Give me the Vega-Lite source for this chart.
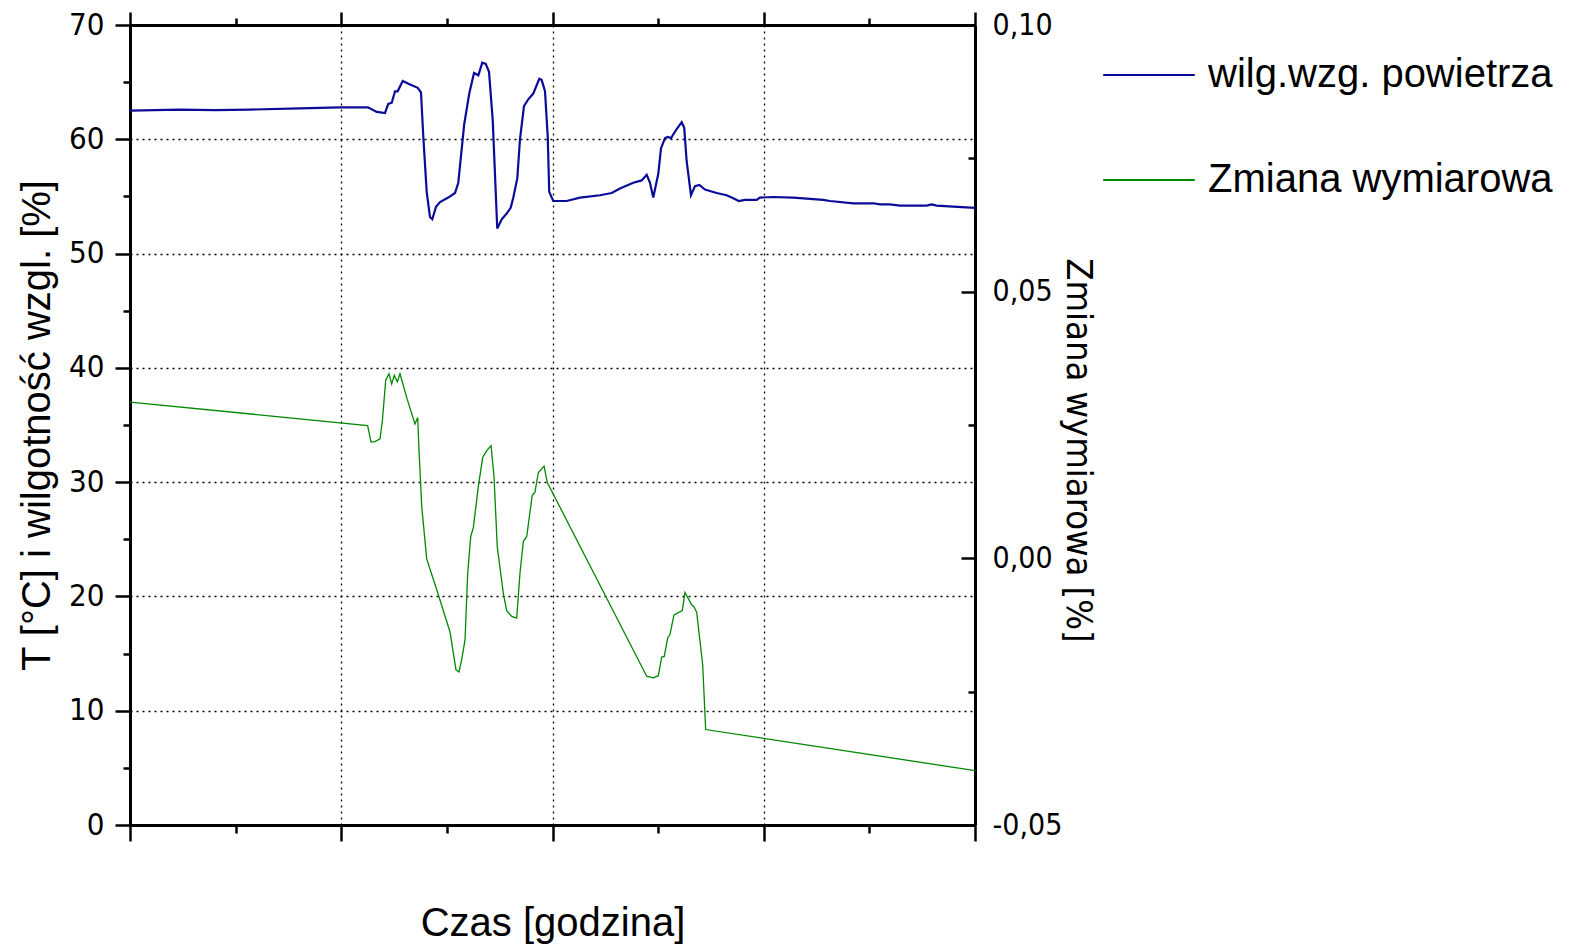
{
  "$schema": "https://vega.github.io/schema/vega-lite/v6.json",
  "width": 845,
  "height": 800,
  "autosize": {"type": "none"},
  "padding": {"left": 130, "top": 25, "right": 600, "bottom": 119},
  "background": "white",
  "config": {
    "view": {"stroke": null},
    "axis": {
      "domainColor": "black", "domainWidth": 3,
      "tickColor": "black", "tickWidth": 2.5,
      "gridColor": "black", "gridDash": [2, 4], "gridWidth": 1.3,
      "labelColor": "black", "titleColor": "black", "titleFontWeight": "normal",
      "labelFlush": false, "labelOverlap": false
    },
    "legend": {
      "orient": "none", "legendX": 972, "legendY": 3,
      "symbolType": "stroke", "symbolSize": 8390, "symbolStrokeWidth": 1.8,
      "labelFont": "Liberation Sans", "labelFontSize": 40, "labelColor": "black",
      "labelOffset": 12, "rowPadding": 38, "padding": 0, "labelLimit": 600
    }
  },
  "datasets": {
    "wilg": [
      {"t": 0.000, "rh": 62.5, "seria": "wilg.wzg. powietrza"},
      {"t": 0.473, "rh": 62.6, "seria": "wilg.wzg. powietrza"},
      {"t": 0.800, "rh": 62.55, "seria": "wilg.wzg. powietrza"},
      {"t": 1.136, "rh": 62.6, "seria": "wilg.wzg. powietrza"},
      {"t": 1.609, "rh": 62.7, "seria": "wilg.wzg. powietrza"},
      {"t": 1.988, "rh": 62.8, "seria": "wilg.wzg. powietrza"},
      {"t": 2.253, "rh": 62.8, "seria": "wilg.wzg. powietrza"},
      {"t": 2.336, "rh": 62.4, "seria": "wilg.wzg. powietrza"},
      {"t": 2.414, "rh": 62.3, "seria": "wilg.wzg. powietrza"},
      {"t": 2.445, "rh": 63.1, "seria": "wilg.wzg. powietrza"},
      {"t": 2.478, "rh": 63.2, "seria": "wilg.wzg. powietrza"},
      {"t": 2.509, "rh": 64.2, "seria": "wilg.wzg. powietrza"},
      {"t": 2.534, "rh": 64.2, "seria": "wilg.wzg. powietrza"},
      {"t": 2.582, "rh": 65.1, "seria": "wilg.wzg. powietrza"},
      {"t": 2.651, "rh": 64.8, "seria": "wilg.wzg. powietrza"},
      {"t": 2.724, "rh": 64.5, "seria": "wilg.wzg. powietrza"},
      {"t": 2.755, "rh": 64.1, "seria": "wilg.wzg. powietrza"},
      {"t": 2.777, "rh": 60.2, "seria": "wilg.wzg. powietrza"},
      {"t": 2.809, "rh": 55.4, "seria": "wilg.wzg. powietrza"},
      {"t": 2.840, "rh": 53.2, "seria": "wilg.wzg. powietrza"},
      {"t": 2.862, "rh": 53.0, "seria": "wilg.wzg. powietrza"},
      {"t": 2.897, "rh": 54.1, "seria": "wilg.wzg. powietrza"},
      {"t": 2.935, "rh": 54.5, "seria": "wilg.wzg. powietrza"},
      {"t": 3.013, "rh": 54.9, "seria": "wilg.wzg. powietrza"},
      {"t": 3.077, "rh": 55.3, "seria": "wilg.wzg. powietrza"},
      {"t": 3.108, "rh": 56.2, "seria": "wilg.wzg. powietrza"},
      {"t": 3.164, "rh": 61.3, "seria": "wilg.wzg. powietrza"},
      {"t": 3.212, "rh": 64.0, "seria": "wilg.wzg. powietrza"},
      {"t": 3.257, "rh": 65.8, "seria": "wilg.wzg. powietrza"},
      {"t": 3.298, "rh": 65.6, "seria": "wilg.wzg. powietrza"},
      {"t": 3.335, "rh": 66.7, "seria": "wilg.wzg. powietrza"},
      {"t": 3.368, "rh": 66.6, "seria": "wilg.wzg. powietrza"},
      {"t": 3.399, "rh": 65.9, "seria": "wilg.wzg. powietrza"},
      {"t": 3.434, "rh": 61.7, "seria": "wilg.wzg. powietrza"},
      {"t": 3.477, "rh": 52.2, "seria": "wilg.wzg. powietrza"},
      {"t": 3.519, "rh": 53.0, "seria": "wilg.wzg. powietrza"},
      {"t": 3.566, "rh": 53.5, "seria": "wilg.wzg. powietrza"},
      {"t": 3.604, "rh": 54.0, "seria": "wilg.wzg. powietrza"},
      {"t": 3.629, "rh": 54.9, "seria": "wilg.wzg. powietrza"},
      {"t": 3.667, "rh": 56.6, "seria": "wilg.wzg. powietrza"},
      {"t": 3.692, "rh": 60.0, "seria": "wilg.wzg. powietrza"},
      {"t": 3.730, "rh": 62.9, "seria": "wilg.wzg. powietrza"},
      {"t": 3.771, "rh": 63.5, "seria": "wilg.wzg. powietrza"},
      {"t": 3.818, "rh": 64.0, "seria": "wilg.wzg. powietrza"},
      {"t": 3.875, "rh": 65.3, "seria": "wilg.wzg. powietrza"},
      {"t": 3.897, "rh": 65.2, "seria": "wilg.wzg. powietrza"},
      {"t": 3.929, "rh": 64.2, "seria": "wilg.wzg. powietrza"},
      {"t": 3.955, "rh": 60.2, "seria": "wilg.wzg. powietrza"},
      {"t": 3.969, "rh": 55.4, "seria": "wilg.wzg. powietrza"},
      {"t": 4.007, "rh": 54.6, "seria": "wilg.wzg. powietrza"},
      {"t": 4.134, "rh": 54.6, "seria": "wilg.wzg. powietrza"},
      {"t": 4.260, "rh": 54.9, "seria": "wilg.wzg. powietrza"},
      {"t": 4.450, "rh": 55.1, "seria": "wilg.wzg. powietrza"},
      {"t": 4.560, "rh": 55.3, "seria": "wilg.wzg. powietrza"},
      {"t": 4.639, "rh": 55.7, "seria": "wilg.wzg. powietrza"},
      {"t": 4.765, "rh": 56.2, "seria": "wilg.wzg. powietrza"},
      {"t": 4.844, "rh": 56.4, "seria": "wilg.wzg. powietrza"},
      {"t": 4.892, "rh": 56.9, "seria": "wilg.wzg. powietrza"},
      {"t": 4.923, "rh": 56.2, "seria": "wilg.wzg. powietrza"},
      {"t": 4.954, "rh": 54.9, "seria": "wilg.wzg. powietrza"},
      {"t": 5.002, "rh": 57.0, "seria": "wilg.wzg. powietrza"},
      {"t": 5.027, "rh": 59.2, "seria": "wilg.wzg. powietrza"},
      {"t": 5.065, "rh": 60.1, "seria": "wilg.wzg. powietrza"},
      {"t": 5.091, "rh": 60.2, "seria": "wilg.wzg. powietrza"},
      {"t": 5.122, "rh": 60.1, "seria": "wilg.wzg. powietrza"},
      {"t": 5.176, "rh": 60.9, "seria": "wilg.wzg. powietrza"},
      {"t": 5.223, "rh": 61.5, "seria": "wilg.wzg. powietrza"},
      {"t": 5.247, "rh": 61.0, "seria": "wilg.wzg. powietrza"},
      {"t": 5.270, "rh": 58.1, "seria": "wilg.wzg. powietrza"},
      {"t": 5.311, "rh": 55.1, "seria": "wilg.wzg. powietrza"},
      {"t": 5.349, "rh": 55.9, "seria": "wilg.wzg. powietrza"},
      {"t": 5.390, "rh": 56.0, "seria": "wilg.wzg. powietrza"},
      {"t": 5.444, "rh": 55.6, "seria": "wilg.wzg. powietrza"},
      {"t": 5.554, "rh": 55.3, "seria": "wilg.wzg. powietrza"},
      {"t": 5.649, "rh": 55.1, "seria": "wilg.wzg. powietrza"},
      {"t": 5.696, "rh": 54.9, "seria": "wilg.wzg. powietrza"},
      {"t": 5.765, "rh": 54.6, "seria": "wilg.wzg. powietrza"},
      {"t": 5.822, "rh": 54.7, "seria": "wilg.wzg. powietrza"},
      {"t": 5.933, "rh": 54.7, "seria": "wilg.wzg. powietrza"},
      {"t": 5.964, "rh": 54.9, "seria": "wilg.wzg. powietrza"},
      {"t": 6.090, "rh": 54.95, "seria": "wilg.wzg. powietrza"},
      {"t": 6.279, "rh": 54.9, "seria": "wilg.wzg. powietrza"},
      {"t": 6.406, "rh": 54.8, "seria": "wilg.wzg. powietrza"},
      {"t": 6.564, "rh": 54.7, "seria": "wilg.wzg. powietrza"},
      {"t": 6.627, "rh": 54.6, "seria": "wilg.wzg. powietrza"},
      {"t": 6.848, "rh": 54.4, "seria": "wilg.wzg. powietrza"},
      {"t": 7.037, "rh": 54.4, "seria": "wilg.wzg. powietrza"},
      {"t": 7.101, "rh": 54.3, "seria": "wilg.wzg. powietrza"},
      {"t": 7.195, "rh": 54.3, "seria": "wilg.wzg. powietrza"},
      {"t": 7.290, "rh": 54.2, "seria": "wilg.wzg. powietrza"},
      {"t": 7.543, "rh": 54.2, "seria": "wilg.wzg. powietrza"},
      {"t": 7.590, "rh": 54.3, "seria": "wilg.wzg. powietrza"},
      {"t": 7.637, "rh": 54.2, "seria": "wilg.wzg. powietrza"},
      {"t": 7.794, "rh": 54.1, "seria": "wilg.wzg. powietrza"},
      {"t": 8.000, "rh": 54.0, "seria": "wilg.wzg. powietrza"}
    ],
    "zmiana": [
      {"t": 0.000, "dz": 0.0293, "seria": "Zmiana wymiarowa"},
      {"t": 2.250, "dz": 0.0249, "seria": "Zmiana wymiarowa"},
      {"t": 2.282, "dz": 0.0218, "seria": "Zmiana wymiarowa"},
      {"t": 2.320, "dz": 0.0219, "seria": "Zmiana wymiarowa"},
      {"t": 2.367, "dz": 0.0224, "seria": "Zmiana wymiarowa"},
      {"t": 2.389, "dz": 0.0257, "seria": "Zmiana wymiarowa"},
      {"t": 2.421, "dz": 0.0334, "seria": "Zmiana wymiarowa"},
      {"t": 2.452, "dz": 0.0346, "seria": "Zmiana wymiarowa"},
      {"t": 2.478, "dz": 0.0327, "seria": "Zmiana wymiarowa"},
      {"t": 2.502, "dz": 0.0343, "seria": "Zmiana wymiarowa"},
      {"t": 2.531, "dz": 0.0331, "seria": "Zmiana wymiarowa"},
      {"t": 2.556, "dz": 0.0346, "seria": "Zmiana wymiarowa"},
      {"t": 2.625, "dz": 0.0298, "seria": "Zmiana wymiarowa"},
      {"t": 2.698, "dz": 0.0252, "seria": "Zmiana wymiarowa"},
      {"t": 2.724, "dz": 0.0264, "seria": "Zmiana wymiarowa"},
      {"t": 2.736, "dz": 0.0203, "seria": "Zmiana wymiarowa"},
      {"t": 2.762, "dz": 0.0097, "seria": "Zmiana wymiarowa"},
      {"t": 2.809, "dz": -0.0001, "seria": "Zmiana wymiarowa"},
      {"t": 2.904, "dz": -0.0059, "seria": "Zmiana wymiarowa"},
      {"t": 3.030, "dz": -0.0138, "seria": "Zmiana wymiarowa"},
      {"t": 3.086, "dz": -0.0209, "seria": "Zmiana wymiarowa"},
      {"t": 3.115, "dz": -0.0213, "seria": "Zmiana wymiarowa"},
      {"t": 3.140, "dz": -0.0190, "seria": "Zmiana wymiarowa"},
      {"t": 3.172, "dz": -0.0153, "seria": "Zmiana wymiarowa"},
      {"t": 3.197, "dz": -0.0028, "seria": "Zmiana wymiarowa"},
      {"t": 3.226, "dz": 0.0041, "seria": "Zmiana wymiarowa"},
      {"t": 3.250, "dz": 0.0057, "seria": "Zmiana wymiarowa"},
      {"t": 3.298, "dz": 0.0135, "seria": "Zmiana wymiarowa"},
      {"t": 3.339, "dz": 0.0189, "seria": "Zmiana wymiarowa"},
      {"t": 3.377, "dz": 0.0202, "seria": "Zmiana wymiarowa"},
      {"t": 3.418, "dz": 0.0211, "seria": "Zmiana wymiarowa"},
      {"t": 3.446, "dz": 0.0154, "seria": "Zmiana wymiarowa"},
      {"t": 3.477, "dz": 0.0022, "seria": "Zmiana wymiarowa"},
      {"t": 3.534, "dz": -0.0065, "seria": "Zmiana wymiarowa"},
      {"t": 3.566, "dz": -0.0098, "seria": "Zmiana wymiarowa"},
      {"t": 3.614, "dz": -0.0109, "seria": "Zmiana wymiarowa"},
      {"t": 3.661, "dz": -0.0112, "seria": "Zmiana wymiarowa"},
      {"t": 3.692, "dz": -0.0028, "seria": "Zmiana wymiarowa"},
      {"t": 3.724, "dz": 0.0032, "seria": "Zmiana wymiarowa"},
      {"t": 3.756, "dz": 0.0041, "seria": "Zmiana wymiarowa"},
      {"t": 3.808, "dz": 0.0118, "seria": "Zmiana wymiarowa"},
      {"t": 3.834, "dz": 0.0124, "seria": "Zmiana wymiarowa"},
      {"t": 3.866, "dz": 0.0161, "seria": "Zmiana wymiarowa"},
      {"t": 3.920, "dz": 0.0173, "seria": "Zmiana wymiarowa"},
      {"t": 3.951, "dz": 0.0142, "seria": "Zmiana wymiarowa"},
      {"t": 4.892, "dz": -0.0221, "seria": "Zmiana wymiarowa"},
      {"t": 4.954, "dz": -0.0224, "seria": "Zmiana wymiarowa"},
      {"t": 5.002, "dz": -0.0220, "seria": "Zmiana wymiarowa"},
      {"t": 5.034, "dz": -0.0185, "seria": "Zmiana wymiarowa"},
      {"t": 5.058, "dz": -0.0184, "seria": "Zmiana wymiarowa"},
      {"t": 5.091, "dz": -0.0149, "seria": "Zmiana wymiarowa"},
      {"t": 5.112, "dz": -0.0143, "seria": "Zmiana wymiarowa"},
      {"t": 5.150, "dz": -0.0106, "seria": "Zmiana wymiarowa"},
      {"t": 5.229, "dz": -0.0098, "seria": "Zmiana wymiarowa"},
      {"t": 5.254, "dz": -0.0064, "seria": "Zmiana wymiarowa"},
      {"t": 5.318, "dz": -0.0087, "seria": "Zmiana wymiarowa"},
      {"t": 5.340, "dz": -0.0091, "seria": "Zmiana wymiarowa"},
      {"t": 5.365, "dz": -0.0101, "seria": "Zmiana wymiarowa"},
      {"t": 5.422, "dz": -0.0200, "seria": "Zmiana wymiarowa"},
      {"t": 5.450, "dz": -0.0321, "seria": "Zmiana wymiarowa"},
      {"t": 8.000, "dz": -0.0398, "seria": "Zmiana wymiarowa"}
    ]
  },
  "layer": [
    {
      "data": {"name": "wilg"},
      "mark": {"type": "line", "strokeWidth": 2.2},
      "encoding": {
        "x": {
          "field": "t", "type": "quantitative",
          "scale": {"domain": [0, 8], "nice": false, "zero": false},
          "axis": {
            "orient": "bottom", "values": [0, 1, 2, 3, 4, 5, 6, 7, 8], "labels": false,
            "title": "Czas [godzina]", "titleFont": "Liberation Sans", "titleFontSize": 40,
            "titleBaseline": "alphabetic", "titleY": 110,
            "grid": true,
            "gridOpacity": {"condition": {"test": "datum.value % 2 === 0", "value": 1}, "value": 0},
            "tickSize": {"condition": {"test": "datum.value % 2 === 0", "value": 16}, "value": 8}
          }
        },
        "y": {
          "field": "rh", "type": "quantitative",
          "scale": {"domain": [0, 70], "nice": false},
          "axis": {
            "orient": "left", "values": [0, 5, 10, 15, 20, 25, 30, 35, 40, 45, 50, 55, 60, 65, 70],
            "labelExpr": "datum.value % 10 === 0 ? datum.label : ''",
            "labelFont": "DejaVu Sans Condensed", "labelFontSize": 31, "labelPadding": 11,
            "tickSize": {"condition": {"test": "datum.value % 10 === 0", "value": 15}, "value": 7},
            "grid": true,
            "gridOpacity": {"condition": {"test": "datum.value % 10 === 0", "value": 1}, "value": 0},
            "title": "T [°C] i wilgotność wzgl. [%]", "titleFont": "Liberation Sans", "titleFontSize": 40,
            "titleBaseline": "alphabetic", "titleX": -81
          }
        },
        "color": {
          "field": "seria", "type": "nominal",
          "scale": {"domain": ["wilg.wzg. powietrza", "Zmiana wymiarowa"], "range": ["#0b0b9a", "#008800"]},
          "legend": {"title": null}
        }
      }
    },
    {
      "data": {"name": "zmiana"},
      "mark": {"type": "line", "strokeWidth": 1.3},
      "encoding": {
        "x": {
          "field": "t", "type": "quantitative",
          "scale": {"domain": [0, 8], "nice": false, "zero": false},
          "axis": {
            "orient": "top", "values": [0, 1, 2, 3, 4, 5, 6, 7, 8], "labels": false, "title": null, "grid": false,
            "tickSize": {"condition": {"test": "datum.value % 2 === 0", "value": 13}, "value": 7}
          }
        },
        "y": {
          "field": "dz", "type": "quantitative",
          "scale": {"domain": [-0.05, 0.1], "nice": false, "zero": false},
          "axis": {
            "orient": "right", "values": [-0.05, -0.025, 0, 0.025, 0.05, 0.075, 0.1],
            "labelExpr": "abs(round(datum.value*1000)) % 50 === 0 ? replace(replace(format(datum.value, '.2f'), '.', ','), '\u2212', '-') : ''",
            "labelFont": "DejaVu Sans Condensed", "labelFontSize": 30, "labelPadding": 31,
            "tickSize": {"condition": {"test": "abs(round(datum.value*1000)) % 50 === 0", "value": -14}, "value": -7},
            "grid": false,
            "title": "Zmiana wymiarowa [%]", "titleFont": "DejaVu Sans Condensed", "titleFontSize": 36,
            "titleBaseline": "alphabetic", "titleAngle": 90, "titleX": 91, "titleY": 425
          }
        },
        "color": {
          "field": "seria", "type": "nominal",
          "scale": {"domain": ["wilg.wzg. powietrza", "Zmiana wymiarowa"], "range": ["#0b0b9a", "#008800"]},
          "legend": {"title": null}
        }
      }
    }
  ],
  "resolve": {"scale": {"y": "independent"}, "axis": {"x": "independent", "y": "independent"}}
}
